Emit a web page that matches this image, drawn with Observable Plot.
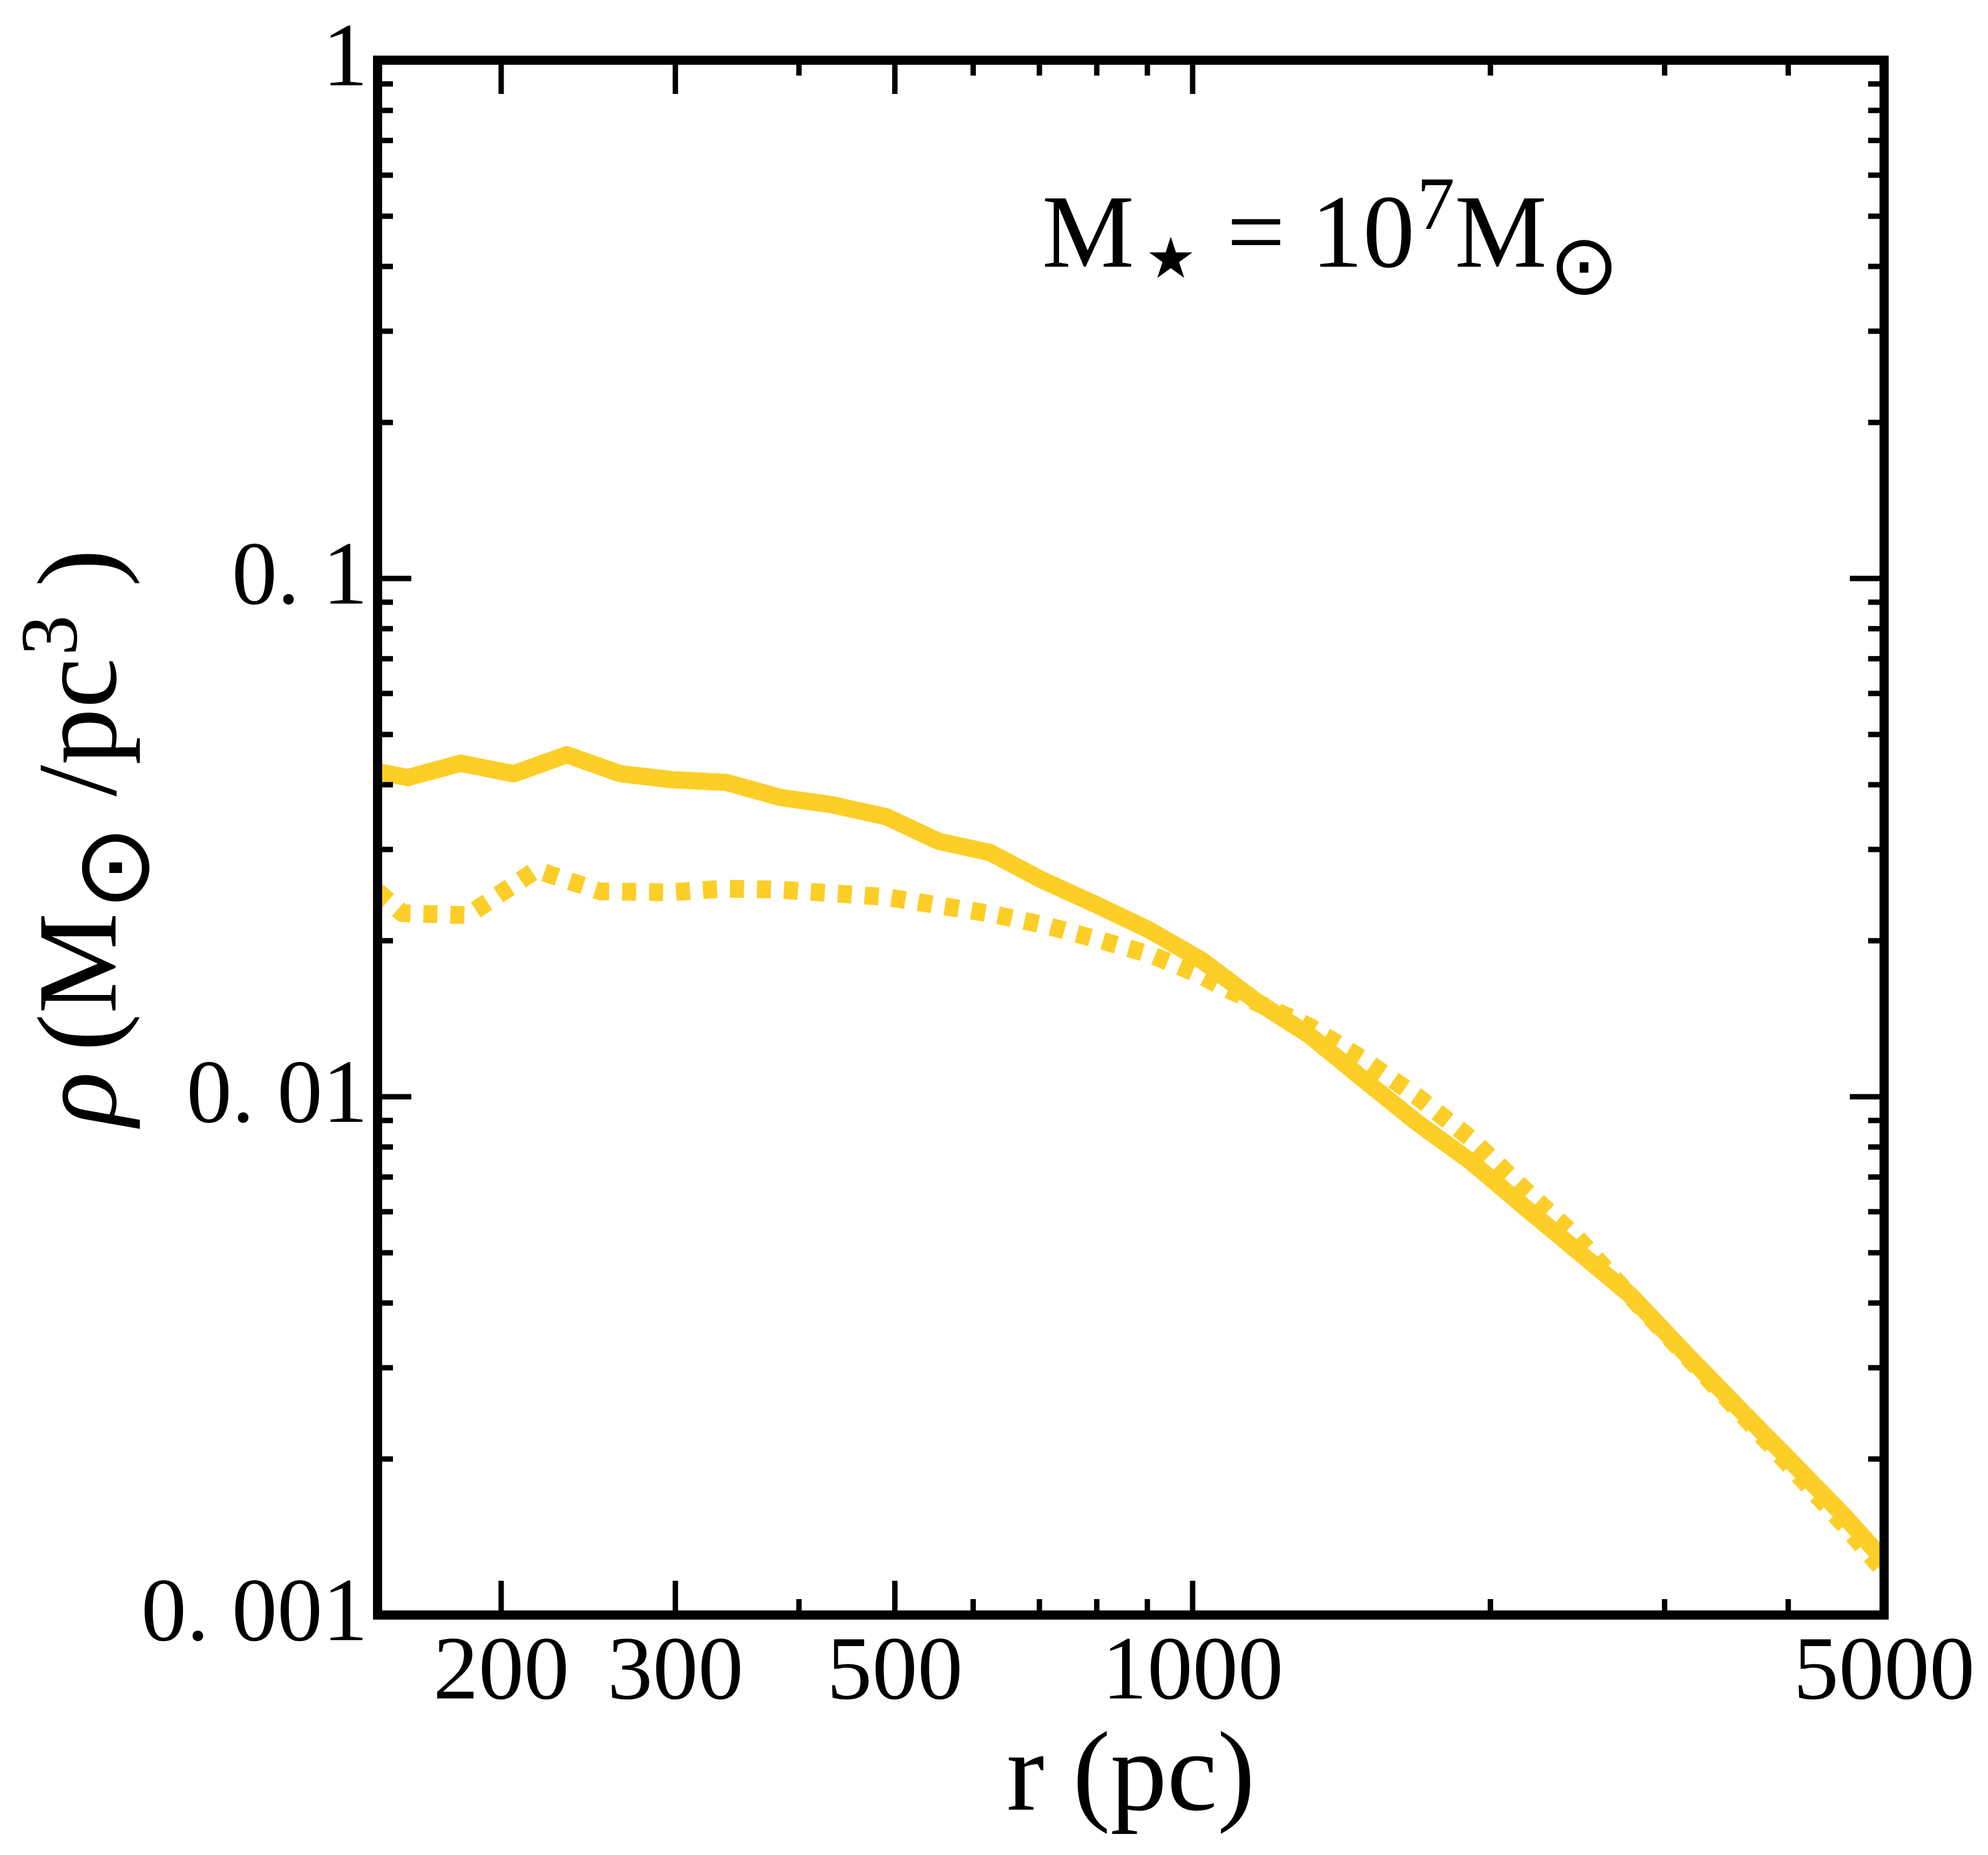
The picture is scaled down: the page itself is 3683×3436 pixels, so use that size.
<!DOCTYPE html>
<html>
<head>
<meta charset="utf-8">
<script src="https://cdn.jsdelivr.net/npm/d3@7"></script>
<script src="https://cdn.jsdelivr.net/npm/@observablehq/plot@0.6"></script>
<style>
  html, body { margin: 0; padding: 0; background: #fff; }
  svg { display: block; }
</style>
</head>
<body>
<div id="chart"></div>
<script>
// ---- data ----
const rSolid = [142, 161, 182, 206, 233, 264, 298, 338, 383, 432, 490, 554, 624, 704, 798, 903, 1023, 1159, 1312, 1486, 1683, 1907, 2160, 2446, 2771, 3138, 3555, 4026, 4561, 5166];
const rhoSolid = [0.0432, 0.0413, 0.0440, 0.0420, 0.0457, 0.0420, 0.0409, 0.0404, 0.0378, 0.0366, 0.0347, 0.0311, 0.0296, 0.0262, 0.0235, 0.0210, 0.0183, 0.0153, 0.01315, 0.01083, 0.00894, 0.00752, 0.00615, 0.00505, 0.00414, 0.00322, 0.00252, 0.00198, 0.00155, 0.00119];

const rDotted = [150, 159, 185, 217, 252, 296, 336, 381, 432, 489, 554, 629, 711, 803, 907, 1016, 1071, 1312, 1486, 1683, 1907, 2160, 2446, 2771, 3138, 3555, 4026, 4561, 5166];
const rhoDotted = [0.0249, 0.0226, 0.0224, 0.0274, 0.0249, 0.0248, 0.0252, 0.0251, 0.0247, 0.0243, 0.0234, 0.0225, 0.0214, 0.0201, 0.0188, 0.0172, 0.0163, 0.01367, 0.01182, 0.01004, 0.00833, 0.00665, 0.00535, 0.00412, 0.00320, 0.00249, 0.00193, 0.00149, 0.00113];

const xMajorTicks = [200, 300, 500, 1000, 5000];
const xMinorTicks = [400, 600, 700, 800, 900, 2000, 3000, 4000];
const yMajorTicks = [0.001, 0.01, 0.1, 1];
const yTickLabels = ["0. 001", "0. 01", "0. 1", "1"];
const yMinorTicks = [0.002, 0.003, 0.004, 0.005, 0.006, 0.007, 0.008, 0.009,
                     0.02, 0.03, 0.04, 0.05, 0.06, 0.07, 0.08, 0.09,
                     0.2, 0.3, 0.4, 0.5, 0.6, 0.7, 0.8, 0.9];

const xLabel = "r (pc)";
const yLabel = "ρ (M⊙ /pc3)";
const annotation = "M⋆ = 107M⊙";

// ---- build ----
const solid = rSolid.map((r, i) => ({r, rho: rhoSolid[i]}));
const dotted = rDotted.map((r, i) => ({r, rho: rhoDotted[i]}));

const W = 3683, H = 3436;
const mL = 699, mR = 193, mT = 111, mB = 445;
const PW = W - mL - mR, PH = H - mT - mB;
const MAJ = 63, MIN = 29, TW = 10;
const lineColor = "#FCCE27";
const font = "'Liberation Serif', 'Times New Roman', serif";

const tickOpts = {stroke: "#000", strokeWidth: TW};

const plot = Plot.plot({
  width: W,
  height: H,
  marginLeft: mL,
  marginRight: mR,
  marginTop: mT,
  marginBottom: mB,
  style: {fontFamily: font, background: "#fff", color: "#000", overflow: "visible"},
  x: {type: "log", domain: [150, 5000], label: null},
  y: {type: "log", domain: [0.001, 1], label: null},
  marks: [
    Plot.line(solid, {x: "r", y: "rho", stroke: lineColor, strokeWidth: 32,
      strokeLinejoin: "round", strokeLinecap: "butt", clip: true}),
    Plot.line(dotted, {x: "r", y: "rho", stroke: lineColor, strokeWidth: 33,
      strokeDasharray: "26,24", strokeLinejoin: "round", strokeLinecap: "butt", clip: true}),
    // x ticks (bottom & top, inward)
    Plot.ruleX(xMajorTicks, {...tickOpts, insetTop: PH - MAJ}),
    Plot.ruleX(xMajorTicks, {...tickOpts, insetBottom: PH - MAJ}),
    Plot.ruleX(xMinorTicks, {...tickOpts, insetTop: PH - MIN}),
    Plot.ruleX(xMinorTicks, {...tickOpts, insetBottom: PH - MIN}),
    // y ticks (left & right, inward)
    Plot.ruleY(yMajorTicks, {...tickOpts, insetRight: PW - MAJ}),
    Plot.ruleY(yMajorTicks, {...tickOpts, insetLeft: PW - MAJ}),
    Plot.ruleY(yMinorTicks, {...tickOpts, insetRight: PW - MIN}),
    Plot.ruleY(yMinorTicks, {...tickOpts, insetLeft: PW - MIN}),
    Plot.frame({stroke: "#000", strokeWidth: 17}),
    Plot.axisX(xMajorTicks, {anchor: "bottom", tickSize: 0, tickPadding: 35, fontSize: 168,
      tickFormat: d => String(d), label: null}),
    Plot.axisY(yMajorTicks, {anchor: "left", tickSize: 0, tickPadding: 18, fontSize: 168, dy: -7,
      tickFormat: d => yTickLabels[yMajorTicks.indexOf(d)], label: null}),
    Plot.text([xLabel], {text: d => d, frameAnchor: "bottom", dy: 360, lineAnchor: "bottom",
      textAnchor: "middle", fontSize: 210}),
    Plot.text([yLabel], {text: d => d, frameAnchor: "left", dx: -486, rotate: -90, lineAnchor: "bottom",
      textAnchor: "middle", fontSize: 210}),
    Plot.text([annotation], {text: d => d, frameAnchor: "top-left", dx: 1231, dy: 382,
      textAnchor: "start", lineAnchor: "bottom", fontSize: 192})
  ]
});

document.getElementById("chart").appendChild(plot);

// rich text (sub/superscripts) via tspans, located by their text content
function rich(content, parts) {
  const t = d3.select(plot).selectAll("text").filter(function () { return this.textContent === content; });
  if (t.empty()) return;
  t.text(null);
  let cur = 0;
  for (const p of parts) {
    const s = t.append("tspan").text(p.t);
    const sh = p.sh || 0;
    if (sh - cur) s.attr("dy", sh - cur);
    cur = sh;
    if (p.dx) s.attr("dx", p.dx);
    if (p.fs) s.attr("font-size", p.fs);
    if (p.it) s.attr("font-style", "italic");
    if (p.ff) s.attr("font-family", p.ff);
  }
}

const sym = "'DejaVu Sans', sans-serif";
rich(yLabel, [
  {t: "ρ", it: true},
  {t: " (M", dx: -15},
  {t: "⊙", sh: 60, fs: 190, ff: sym, dx: 4},
  {t: " /", sh: 0},
  {t: "pc"},
  {t: "3", sh: -72, fs: 150, dx: 4},
  {t: " )", sh: 0}
]);
rich(annotation, [
  {t: "M"},
  {t: "⋆", sh: 52, fs: 210, ff: sym, dx: 2},
  {t: " = ", sh: 0, dx: -10},
  {t: "10"},
  {t: "7", sh: -70, fs: 140, dx: 4},
  {t: "M", sh: 0},
  {t: "⊙", sh: 50, fs: 155, ff: sym, dx: 4}
]);
</script>
</body>
</html>
